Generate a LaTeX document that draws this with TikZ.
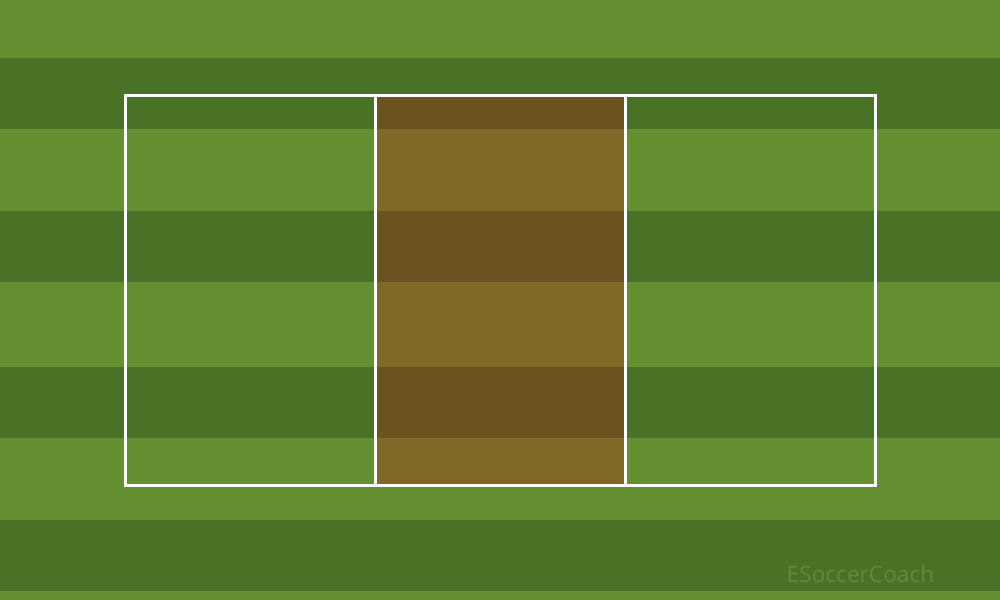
\documentclass[tikz,border=0pt]{standalone}
\usepackage{fontspec}
\setmainfont{Open Sans}
\usepackage{xcolor}
\usepackage{tikz}
\definecolor{grasslight}{HTML}{659031}
\definecolor{grassdark}{HTML}{4A7227}
\definecolor{dirtlight}{HTML}{806826}
\definecolor{dirtdark}{HTML}{6B531F}
\definecolor{markmark}{HTML}{5E8A3A}
\tikzset{
  stripe/.style={draw=none},
  pitchline/.style={draw=white,line width=0.3mm},
  watermark/.style={font=\fontsize{6.45pt}{7pt}\selectfont,text=markmark,inner sep=0pt,anchor=base west}
}
\begin{document}
\begin{tikzpicture}[x=0.1mm,y=-0.1mm]
  \useasboundingbox (0,0) rectangle (1000,600);
  % grass stripes
  \fill[grasslight] (0,0) rectangle (1000,600);
  \foreach \ytop/\ybot in {58/129,211/282,367/438,520/591}
    \fill[stripe,grassdark] (0,\ytop) rectangle (1000,\ybot);
  % middle zone
  \fill[dirtlight] (375,96) rectangle (625,486);
  \foreach \ytop/\ybot in {96/129,211/282,367/438}
    \fill[stripe,dirtdark] (375,\ytop) rectangle (625,\ybot);
  % lines
  \coordinate (tl) at (125,96);
  \coordinate (br) at (875,486);
  \coordinate (lt) at (375,96);
  \coordinate (lb) at (375,486);
  \coordinate (rt) at (625,96);
  \coordinate (rb) at (625,486);
  \draw[pitchline] (tl) rectangle (br);
  \draw[pitchline] (lt) -- (lb);
  \draw[pitchline] (rt) -- (rb);
  \node[watermark] (brand) at (786,583) {ESoccerCoach};
\end{tikzpicture}
\end{document}
